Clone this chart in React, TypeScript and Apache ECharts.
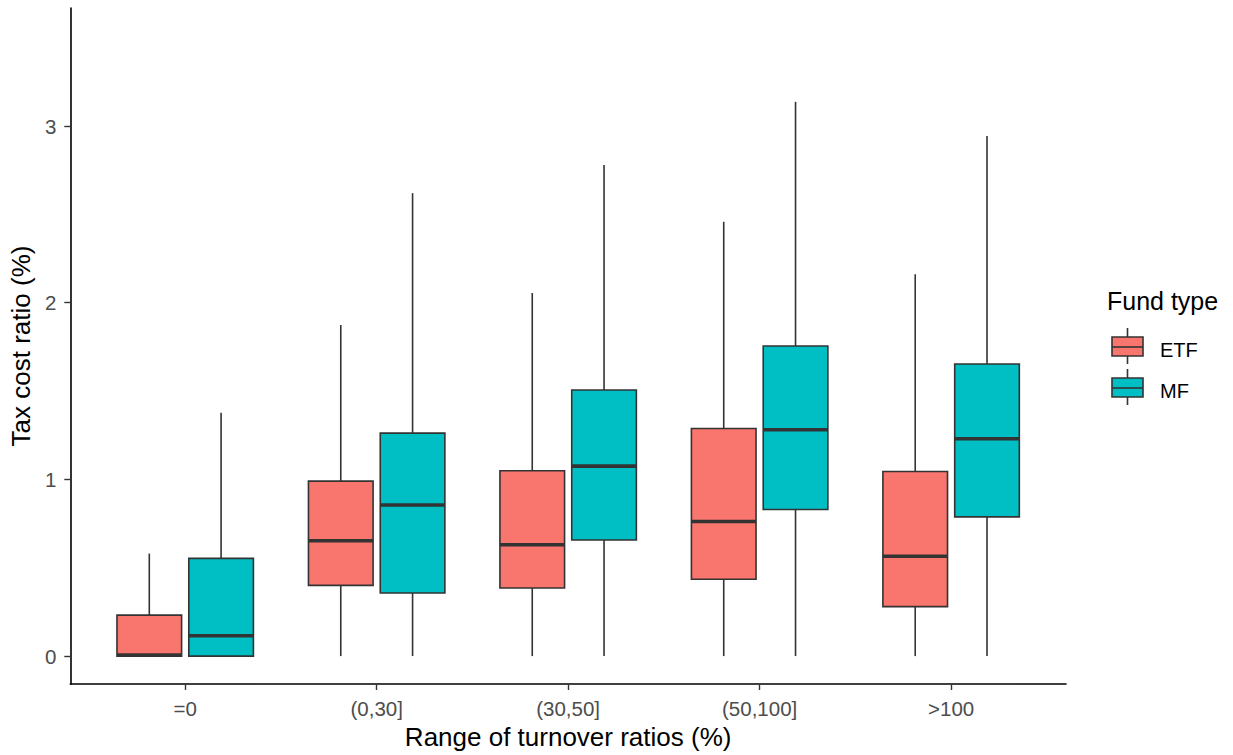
import React, { useEffect, useRef } from "react";
import * as echarts from "echarts";

const categories = ["=0", "(0,30]", "(30,50]", "(50,100]", ">100"];
const yTicks = [0, 1, 2, 3];
const seriesNames = ["ETF", "MF"];
const seriesColors = ["#F8766D", "#00BFC4"];

const etfLow = [0, 0, 0, 0, 0];
const etfQ1 = [0, 0.4, 0.385, 0.435, 0.28];
const etfMedian = [0.006, 0.653, 0.63, 0.762, 0.565];
const etfQ3 = [0.232, 0.99, 1.049, 1.288, 1.045];
const etfHigh = [0.58, 1.874, 2.055, 2.458, 2.161];

const mfLow = [0, 0, 0, 0, 0];
const mfQ1 = [0, 0.357, 0.657, 0.83, 0.788];
const mfMedian = [0.115, 0.855, 1.075, 1.281, 1.23];
const mfQ3 = [0.553, 1.262, 1.506, 1.755, 1.653];
const mfHigh = [1.377, 2.62, 2.78, 3.137, 2.944];

const FONT = "'Liberation Sans', Arial, sans-serif";
const EDGE = "#333333";
const BOX_WIDTH = 0.3375;
const DODGE = 0.1875;

function buildData(low: number[], q1: number[], med: number[], q3: number[], high: number[], offset: number) {
  return categories.map((_, i) => [i + 1 + offset, low[i], q1[i], med[i], q3[i], high[i]]);
}

function makeRender(color: string) {
  return (params: any, api: any) => {
    const x = api.value(0);
    const [cx, yLow] = api.coord([x, api.value(1)]);
    const yQ1 = api.coord([x, api.value(2)])[1];
    const yMed = api.coord([x, api.value(3)])[1];
    const yQ3 = api.coord([x, api.value(4)])[1];
    const yHigh = api.coord([x, api.value(5)])[1];
    const w = api.size([BOX_WIDTH, 0])[0];
    const lineStyle = { stroke: EDGE, lineWidth: 1.6 };
    return {
      type: "group",
      children: [
        { type: "line", shape: { x1: cx, y1: yHigh, x2: cx, y2: yQ3 }, style: lineStyle },
        { type: "line", shape: { x1: cx, y1: yQ1, x2: cx, y2: yLow }, style: lineStyle },
        {
          type: "rect",
          shape: { x: cx - w / 2, y: yQ3, width: w, height: yQ1 - yQ3 },
          style: { fill: color, stroke: EDGE, lineWidth: 1.6 },
        },
        {
          type: "line",
          shape: { x1: cx - w / 2, y1: yMed, x2: cx + w / 2, y2: yMed },
          style: { stroke: EDGE, lineWidth: 3.6 },
        },
      ],
    };
  };
}

function legendKey(y: number, color: string) {
  const cx = 1127.5;
  const w = 31;
  return [
    { type: "line", shape: { x1: cx, y1: y - 19, x2: cx, y2: y + 17 }, style: { stroke: EDGE, lineWidth: 1.6 } },
    {
      type: "rect",
      shape: { x: cx - w / 2, y: y - 10, width: w, height: 19 },
      style: { fill: color, stroke: EDGE, lineWidth: 1.6 },
    },
    { type: "line", shape: { x1: cx - w / 2, y1: y, x2: cx + w / 2, y2: y }, style: { stroke: EDGE, lineWidth: 1.6 } },
  ];
}

export default function App() {
  const ref = useRef<HTMLDivElement>(null);
  useEffect(() => {
    if (!ref.current) return;
    const chart = echarts.init(ref.current, null, { renderer: "svg" });
    const allData = [
      buildData(etfLow, etfQ1, etfMedian, etfQ3, etfHigh, -DODGE),
      buildData(mfLow, mfQ1, mfMedian, mfQ3, mfHigh, DODGE),
    ];
    const legendY = [347, 388];
    chart.setOption({
      animation: false,
      backgroundColor: "#ffffff",
      grid: { left: 69, right: 167, top: 8, bottom: 71, containLabel: false },
      xAxis: {
        type: "value",
        min: 0.4,
        max: 5.6,
        name: "Range of turnover ratios (%)",
        nameLocation: "middle",
        nameGap: 40,
        nameTextStyle: { fontFamily: FONT, fontSize: 26, color: "#000" },
        axisLine: { show: true, onZero: false, lineStyle: { color: "#000", width: 1.6 } },
        axisTick: { show: true, length: 6, customValues: [1, 2, 3, 4, 5], lineStyle: { color: EDGE, width: 1.4 } },
        axisLabel: {
          customValues: [1, 2, 3, 4, 5],
          formatter: (v: number) => categories[Math.round(v) - 1] ?? "",
          fontFamily: FONT,
          fontSize: 20.5,
          color: "#4D4D4D",
          margin: 14,
        },
        splitLine: { show: false },
      },
      yAxis: {
        type: "value",
        min: -0.158,
        max: 3.668,
        name: "Tax cost ratio (%)",
        nameLocation: "middle",
        nameGap: 33,
        nameTextStyle: { fontFamily: FONT, fontSize: 26, color: "#000" },
        axisLine: { show: true, onZero: false, lineStyle: { color: "#000", width: 1.6 } },
        axisTick: { show: true, length: 6, customValues: yTicks, lineStyle: { color: EDGE, width: 1.4 } },
        axisLabel: {
          customValues: yTicks,
          formatter: (v: number) => String(v),
          fontFamily: FONT,
          fontSize: 20.5,
          color: "#4D4D4D",
          margin: 14,
        },
        splitLine: { show: false },
      },
      series: seriesNames.map((name, i) => ({
        type: "custom",
        name,
        renderItem: makeRender(seriesColors[i]),
        encode: { x: 0, y: [1, 2, 3, 4, 5] },
        data: allData[i],
        clip: true,
      })),
      graphic: [
        {
          type: "text",
          left: 1107,
          top: 288,
          style: { text: "Fund type", fontFamily: FONT, fontSize: 25, fill: "#000" },
        },
        ...seriesNames.flatMap((name, i) => [
          ...legendKey(legendY[i], seriesColors[i]),
          {
            type: "text",
            x: 1160,
            y: legendY[i] + 3,
            style: { text: name, fontFamily: FONT, fontSize: 20, fill: "#000", verticalAlign: "middle" },
          },
        ]),
      ],
    });
    return () => chart.dispose();
  }, []);
  return <div ref={ref} style={{ position: "fixed", left: 0, top: 0, width: 1233, height: 755 }} />;
}
